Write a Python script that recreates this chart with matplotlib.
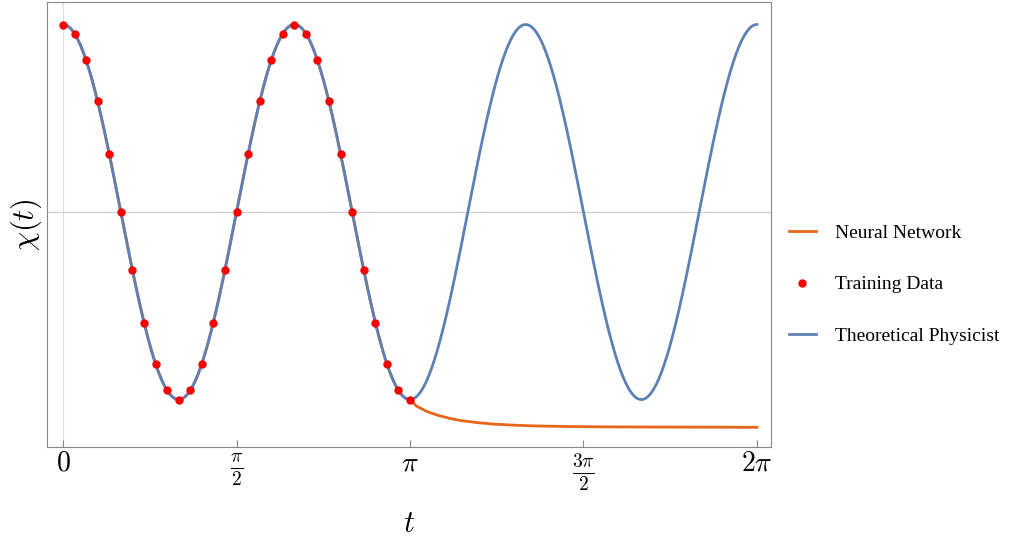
import numpy as np
import matplotlib
matplotlib.use("Agg")
import matplotlib.pyplot as plt

plt.rcParams['font.family'] = ['Liberation Serif', 'DejaVu Serif']
plt.rcParams['mathtext.fontset'] = 'cm'

# Theoretical curve: chi(t) = cos(omega t)
omega = 3.0
amplitude = 1.0
# Training data (31 samples on [0, pi])
train_t = [i * np.pi / 30 for i in range(31)]
train_chi = [1.00, 0.95, 0.81, 0.59, 0.31, 0.00, -0.31, -0.59, -0.81, -0.95, -1.00,
             -0.95, -0.81, -0.59, -0.31, 0.00, 0.31, 0.59, 0.81, 0.95, 1.00,
             0.95, 0.81, 0.59, 0.31, 0.00, -0.31, -0.59, -0.81, -0.95, -1.00]
# Neural network extrapolation tail beyond pi
nn_tail_t = [np.pi, 3.2, 3.3, 3.4, 3.5, 3.6, 3.75, 3.9, 4.1, 4.3, 4.6, 5.0, 5.5, 6.0, 2 * np.pi]
nn_tail_chi = [-1.00, -1.035, -1.065, -1.085, -1.10, -1.112, -1.123, -1.131, -1.137,
               -1.141, -1.144, -1.146, -1.147, -1.148, -1.148]

t = np.linspace(0, 2 * np.pi, 800)
theory = amplitude * np.cos(omega * t)
t_nn1 = np.linspace(0, np.pi, 400)

fig = plt.figure(figsize=(10.24, 5.44), dpi=100)
ax = fig.add_axes([47/1024, 97/544, 724/1024, 445/544])
ax.axhline(0, color='#cccccc', lw=0.8, zorder=0)
ax.axvline(0, color='#dddddd', lw=0.8, zorder=0)

orange = '#E8661A'
blue = '#5E81B5'
ax.plot(list(t_nn1) + nn_tail_t[1:], list(np.cos(omega * t_nn1)) + nn_tail_chi[1:],
        color=orange, lw=2, label='Neural Network', zorder=2)
ax.plot(train_t, train_chi, 'o', color='#FF0000', ms=5, mec='#ee0000',
        label='Training Data', zorder=4)
ax.plot(t, theory, color=blue, lw=2, label='Theoretical Physicist', zorder=3)

ax.set_xlim(-0.145, 6.41)
ax.set_ylim(-1.253, 1.12)
ax.set_yticks([])
ax.set_xticks([0, np.pi/2, np.pi, 3*np.pi/2, 2*np.pi])
ax.set_xticklabels([r'$0$', r'$\frac{\pi}{2}$', r'$\pi$', r'$\frac{3\pi}{2}$', r'$2\pi$'], fontsize=20)
ax.tick_params(axis='x', direction='in', length=5, color='#888888')
for s in ax.spines.values():
    s.set_color('#888888')
ax.set_xlabel(r'$t$', fontsize=22, labelpad=12)
ax.set_ylabel(r'$\chi(t)$', fontsize=22, labelpad=2)

ax.legend(loc='center left', bbox_to_anchor=(1.0, 0.365), frameon=False,
          fontsize=14, labelspacing=1.75, handlelength=1.4, handletextpad=1.0)

fig.savefig('out.png', dpi=100)
